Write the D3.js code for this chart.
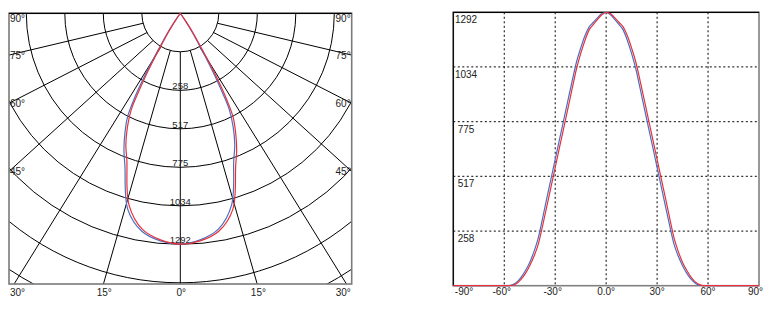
<!DOCTYPE html>
<html>
<head>
<meta charset="utf-8">
<title>Light distribution</title>
<script src="https://cdn.jsdelivr.net/npm/d3@7"></script>
<style>
  body { margin: 0; background: #fff; }
  text { font-family: "Liberation Sans", Arial, sans-serif; fill: #222; }
</style>
</head>
<body>
<script>
    // polar curve readings, degrees -> cd
    var polarAngles = [-37, -36, -35, -34, -33, -32, -31, -30, -29, -28, -27, -25, -22.5, -20, -15, -10, -5, 0,
        5, 10, 15, 20, 22.5, 25, 27, 28, 29, 30, 31, 32, 33, 34, 35, 36, 37];
    var polarBlue = [0, 5, 41, 83, 130, 179, 257, 366, 478, 574, 649, 731, 824, 906, 1135, 1238, 1278, 1291,
        1272, 1226, 1109, 874, 796, 699, 603, 500, 394, 282, 191, 135, 94, 51, 15, 0, 0];
    var polarRed = [0, 0, 15, 51, 94, 135, 191, 282, 394, 500, 603, 699, 796, 874, 1109, 1226, 1272, 1291,
        1278, 1238, 1135, 906, 824, 731, 649, 574, 478, 366, 257, 179, 130, 83, 41, 5, 0];
    var ringLabels = ['258', '517', '775', '1034', '1292'];
    var spokeAngles = [15, 30, 45, 60, 75];
    var spokeEnds = [15.9, 31.6, 47.5, 62.6, 76.5]; // where the printed spokes meet the frame

    // cartesian curve readings
    var curveAngles = [-90, -75, -60, -57.5, -55, -52.5, -50, -47.5, -45, -42.5, -40, -37.5, -35, -32.5, -30,
        -27.5, -25, -22.5, -20, -17.5, -15, -12.5, -10, -7.5, -5, -2.5, 0, 2.5, 5, 7.5, 10, 12.5, 15, 17.5, 20,
        22.5, 25, 27.5, 30, 32.5, 35, 37.5, 40, 42.5, 45, 47.5, 50, 52.5, 55, 57.5, 60, 75, 90];
    var curveBlue = [0, 0, 0, 0, 5, 18, 41, 72, 110, 161, 225, 316, 411, 504, 597, 690, 783, 876, 968, 1056,
        1123, 1181, 1223, 1245, 1267, 1286, 1291, 1280, 1259, 1235, 1209, 1159, 1097, 1024, 932, 838, 745, 652,
        559, 466, 373, 280, 195, 139, 94, 58, 31, 12, 2, 0, 0, 0, 0];
    var curveRed = [0, 0, 0, 0, 2, 12, 31, 58, 94, 139, 195, 280, 373, 466, 559, 652, 745, 838, 932, 1024,
        1097, 1159, 1209, 1235, 1259, 1280, 1291, 1286, 1267, 1245, 1223, 1181, 1123, 1056, 968, 876, 783, 690,
        597, 504, 411, 316, 225, 161, 110, 72, 41, 18, 5, 0, 0, 0, 0];
    var xTicks = [-90, -60, -30, 0, 30, 60, 90];
    var xTickLabels = ['-90°', '-60°', '-30°', '0.0°', '30°', '60°', '90°'];
    var yTicks = [258, 517, 775, 1034, 1292];
    var maxCd = 1292;

    var blue = '#4b6fc0', red = '#e8303c';

    var svg = d3.select('body').append('svg')
        .attr('width', 778)
        .attr('height', 314);

    // ---------- polar chart ----------
    var cx = 180.3, cy = 13.3, left = 9, right = 351.7, bottom = 284;
    var r = d3.scaleLinear().domain([0, maxCd]).range([0, 231]);
    var ring = d3.scaleLinear().domain([0, 8]).range([0, 308]);

    function pt(rad, deg) {
        var t = deg * Math.PI / 180;
        return [cx + rad * Math.sin(t), cy + rad * Math.cos(t)];
    }

    svg.append('clipPath').attr('id', 'polarClip')
        .append('rect')
        .attr('x', left).attr('y', cy)
        .attr('width', right - left).attr('height', bottom - cy);

    var grid = svg.append('g').attr('clip-path', 'url(#polarClip)');

    grid.selectAll('circle').data(d3.range(1, 9)).join('circle')
        .attr('cx', cx).attr('cy', cy)
        .attr('r', d => ring(d))
        .attr('fill', 'none').attr('stroke', '#000').attr('stroke-width', 1);

    var spokes = [{ a: 0, e: 0 }];
    spokeAngles.forEach(function (a, i) {
        spokes.push({ a: a, e: spokeEnds[i] });
        spokes.push({ a: -a, e: -spokeEnds[i] });
    });
    grid.selectAll('line').data(spokes).join('line')
        .attr('x1', d => pt(ring(1), d.a)[0])
        .attr('y1', d => pt(ring(1), d.a)[1])
        .attr('x2', d => pt(420, d.e)[0])
        .attr('y2', d => pt(420, d.e)[1])
        .attr('stroke', '#000').attr('stroke-width', 1);

    svg.append('rect')
        .attr('x', left).attr('y', cy)
        .attr('width', right - left).attr('height', bottom - cy)
        .attr('fill', 'none').attr('stroke', '#7a7a7a').attr('stroke-width', 1.6);
    svg.append('line')
        .attr('x1', left).attr('x2', right).attr('y1', cy).attr('y2', cy)
        .attr('stroke', '#000').attr('stroke-width', 1.2);

    // ring values
    svg.selectAll('text.ring').data(ringLabels).join('text')
        .attr('class', 'ring')
        .attr('x', cx)
        .attr('y', (d, i) => cy + ring(i + 2) - 1)
        .attr('text-anchor', 'middle')
        .style('font-size', '9.5px')
        .text(d => d);

    // side angle labels
    var sideLabels = [{ a: 90, e: 90 }];
    spokeAngles.forEach(function (a, i) { if (a >= 45) sideLabels.push({ a: a, e: spokeEnds[i] }); });
    sideLabels.forEach(function (d) {
        var yy = cy + (cx - left) / Math.tan(d.e * Math.PI / 180);
        yy = Math.max(yy + 4.5, cy + 8.5);
        svg.append('text').attr('x', left + 1).attr('y', yy)
            .style('font-size', '10px').text(d.a + '°');
        svg.append('text').attr('x', right - 1).attr('y', yy)
            .attr('text-anchor', 'end')
            .style('font-size', '10px').text(d.a + '°');
    });

    // bottom angle labels
    var bottomLabels = [{ a: 0, e: 0 }];
    spokeAngles.forEach(function (a, i) {
        if (a <= 30) {
            bottomLabels.push({ a: a, e: spokeEnds[i] });
            bottomLabels.push({ a: -a, e: -spokeEnds[i] });
        }
    });
    svg.selectAll('text.bot').data(bottomLabels).join('text')
        .attr('class', 'bot')
        .attr('x', function (d) {
            var xx = cx + 1 + (bottom - cy) * Math.tan(d.e * Math.PI / 180);
            return Math.min(Math.max(xx, left + 8.5), right - 8.5);
        })
        .attr('y', 295.5)
        .attr('text-anchor', 'middle')
        .style('font-size', '10px')
        .text(d => Math.abs(d.a) + '°');

    var radial = d3.lineRadial()
        .angle(d => Math.PI - d[0] * Math.PI / 180)
        .radius(d => r(d[1]))
        .curve(d3.curveCatmullRom);

    var pg = svg.append('g').attr('transform', 'translate(' + cx + ',' + cy + ')');
    pg.append('path')
        .attr('d', radial(d3.zip(polarAngles, polarBlue)))
        .attr('fill', 'none').attr('stroke', blue).attr('stroke-width', 1.2);
    pg.append('path')
        .attr('d', radial(d3.zip(polarAngles, polarRed)))
        .attr('fill', 'none').attr('stroke', red).attr('stroke-width', 1.2);

    // ---------- cartesian chart ----------
    var x = d3.scaleLinear().domain([-90, 90]).range([453.3, 759]);
    var y = d3.scaleLinear().domain([0, maxCd]).range([285.7, 12.3]);

    svg.selectAll('line.vgrid').data(xTicks.slice(1, -1)).join('line')
        .attr('class', 'vgrid')
        .attr('x1', d => x(d)).attr('x2', d => x(d))
        .attr('y1', y(maxCd)).attr('y2', y(0))
        .attr('stroke', '#000').attr('stroke-width', 1)
        .attr('stroke-dasharray', '2,2.5');
    svg.selectAll('line.hgrid').data(yTicks.slice(0, -1)).join('line')
        .attr('class', 'hgrid')
        .attr('x1', x(-90)).attr('x2', x(90))
        .attr('y1', d => y(d)).attr('y2', d => y(d))
        .attr('stroke', '#000').attr('stroke-width', 1)
        .attr('stroke-dasharray', '2,2.5');

    svg.append('rect')
        .attr('x', x(-90)).attr('y', y(maxCd))
        .attr('width', x(90) - x(-90)).attr('height', y(0) - y(maxCd))
        .attr('fill', 'none').attr('stroke', '#808080').attr('stroke-width', 1.6);
    svg.append('path')
        .attr('d', 'M' + x(-90) + ',' + y(0) + 'V' + y(maxCd) + 'H' + x(90))
        .attr('fill', 'none').attr('stroke', '#000').attr('stroke-width', 1.2);

    svg.selectAll('text.ytick').data(yTicks).join('text')
        .attr('class', 'ytick')
        .attr('x', 466)
        .attr('y', d => y(d) + 11)
        .attr('text-anchor', 'middle')
        .style('font-size', '10px')
        .text(d => d);

    svg.selectAll('text.xtick').data(xTicks).join('text')
        .attr('class', 'xtick')
        .attr('x', (d, i) => i === 0 ? x(d) + 1.5 : i === xTicks.length - 1 ? x(d) + 4 : x(d) - (d < 0 ? 2.5 : 0))
        .attr('y', 294.5)
        .attr('text-anchor', (d, i) => i === 0 ? 'start' : i === xTicks.length - 1 ? 'end' : 'middle')
        .style('font-size', '10px')
        .text((d, i) => xTickLabels[i]);

    var line = d3.line()
        .x(d => x(d[0]))
        .y(d => y(d[1]))
        .curve(d3.curveMonotoneX);

    svg.append('path')
        .attr('d', line(d3.zip(curveAngles, curveBlue)))
        .attr('fill', 'none').attr('stroke', blue).attr('stroke-width', 1.2);
    svg.append('path')
        .attr('d', line(d3.zip(curveAngles, curveRed)))
        .attr('fill', 'none').attr('stroke', red).attr('stroke-width', 1.2);
</script>
</body>
</html>
